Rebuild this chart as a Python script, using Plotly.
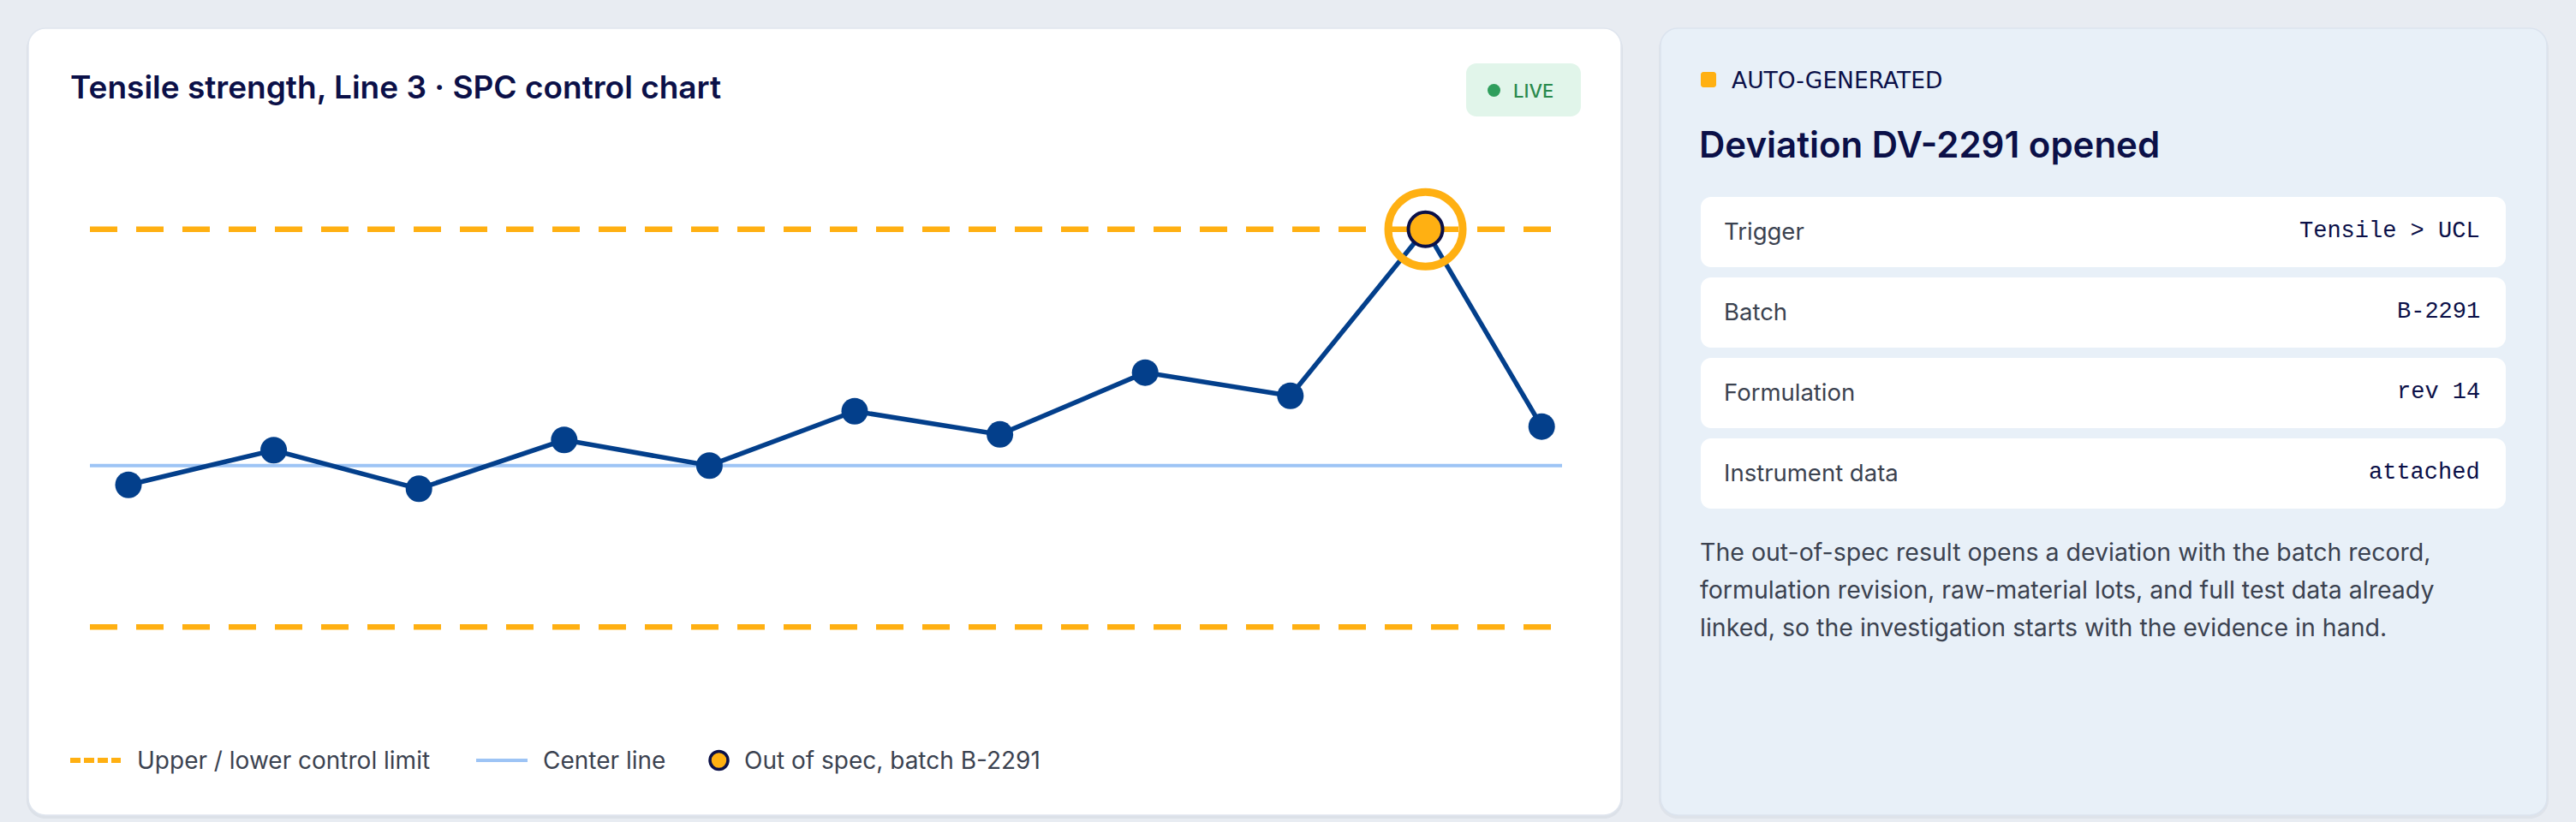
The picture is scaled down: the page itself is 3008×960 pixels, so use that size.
import plotly.graph_objects as go

# ---------------- data ----------------
sample_pos = [1, 2, 3, 4, 5, 6, 7, 8, 9, 9.93, 10.73]
tensile = [49.51, 50.39, 49.41, 50.65, 50.0, 51.38, 50.79, 52.36, 51.77, 56.0, 50.99]
center_line = 50.0
ucl = 56.0
lcl = 45.9
oos_index = 9

legend_labels = ["Upper / lower control limit", "Center line", "Out of spec, batch B-2291"]
row_labels = ["Trigger", "Batch", "Formulation", "Instrument data"]
row_values = ["Tensile > UCL", "B-2291", "rev 14", "attached"]
paragraph_lines = [
    "The out-of-spec result opens a deviation with the batch record,",
    "formulation revision, raw-material lots, and full test data already",
    "linked, so the investigation starts with the evidence in hand.",
]
chart_title = "Tensile strength, Line 3 · SPC control chart"
panel_kicker = "AUTO-GENERATED"
panel_title = "Deviation DV-2291 opened"

# ---------------- style ----------------
W, H = 3008, 960
NAVY = "#033f8b"
ORANGE = "#ffb012"
CL_BLUE = "#9dc4f5"
DARK = "#0b1048"
GREY_TXT = "#3b4250"
BG = "#e8ecf2"
SANS = "Inter, 'Open Sans', sans-serif"
MONO = "'Liberation Mono', 'DejaVu Sans Mono', monospace"


def fx(x):
    return x / W


def fy(y):
    return 1 - y / H


def rrect(x0, y0, x1, y1, r):
    k = 0.5523 * r
    p = [
        f"M {fx(x0 + r)},{fy(y0)}",
        f"L {fx(x1 - r)},{fy(y0)}",
        f"C {fx(x1 - r + k)},{fy(y0)} {fx(x1)},{fy(y0 + r - k)} {fx(x1)},{fy(y0 + r)}",
        f"L {fx(x1)},{fy(y1 - r)}",
        f"C {fx(x1)},{fy(y1 - r + k)} {fx(x1 - r + k)},{fy(y1)} {fx(x1 - r)},{fy(y1)}",
        f"L {fx(x0 + r)},{fy(y1)}",
        f"C {fx(x0 + r - k)},{fy(y1)} {fx(x0)},{fy(y1 - r + k)} {fx(x0)},{fy(y1 - r)}",
        f"L {fx(x0)},{fy(y0 + r)}",
        f"C {fx(x0)},{fy(y0 + r - k)} {fx(x0 + r - k)},{fy(y0)} {fx(x0 + r)},{fy(y0)}",
        "Z",
    ]
    return " ".join(p)


shapes = []
annotations = []


def card(x0, y0, x1, y1, r, fill, line=None, lw=0):
    shapes.append(dict(type="path", xref="paper", yref="paper", path=rrect(x0, y0, x1, y1, r),
                       fillcolor=fill, line=dict(color=line or fill, width=lw), layer="below"))


def text(x, y, s, size, color, family=SANS, weight=400, anchor="left"):
    annotations.append(dict(x=fx(x), y=fy(y), xref="paper", yref="paper", text=s, showarrow=False,
                            xanchor=anchor, yanchor="middle",
                            font=dict(size=size, color=color, family=family, weight=weight)))


# card shadows + cards
card(31, 35, 1895, 956, 22, "rgba(30,50,90,0.06)")
card(1937, 35, 2976, 956, 22, "rgba(30,50,90,0.05)")
card(33, 33, 1893, 952, 20, "#ffffff", "#dfe5ee", 1.5)
card(1939, 33, 2974, 952, 20, "#e8f0f8", "#dbe3ee", 1.5)

# LIVE badge
card(1712, 74, 1846, 136, 12, "#e1f5ea")
shapes.append(dict(type="circle", xref="paper", yref="paper", x0=fx(1737), x1=fx(1752), y0=fy(113), y1=fy(98),
                   fillcolor="#2f9e5c", line=dict(width=0), layer="below"))
text(1765, 106, "LIVE", 22, "#2a8a4d", weight=500)

# chart title
text(80, 102, chart_title, 37, DARK, weight=600)

# custom legend
LY = 888
shapes.append(dict(type="line", xref="paper", yref="paper", x0=fx(82), x1=fx(141), y0=fy(LY), y1=fy(LY),
                   line=dict(color=ORANGE, width=6, dash="12px,4px")))
text(158, LY, legend_labels[0], 28, GREY_TXT)
shapes.append(dict(type="line", xref="paper", yref="paper", x0=fx(556), x1=fx(616), y0=fy(LY), y1=fy(LY),
                   line=dict(color=CL_BLUE, width=4)))
text(632, LY, legend_labels[1], 28, GREY_TXT)
shapes.append(dict(type="circle", xref="paper", yref="paper", x0=fx(829), x1=fx(850), y0=fy(LY + 10.5),
                   y1=fy(LY - 10.5), fillcolor=ORANGE, line=dict(color=DARK, width=3.5)))
text(867, LY, legend_labels[2], 28, GREY_TXT)

# right panel
shapes.append(dict(type="path", xref="paper", yref="paper", path=rrect(1986, 84, 2004, 102, 3),
                   fillcolor=ORANGE, line=dict(width=0)))
text(2020, 93, panel_kicker, 26.5, DARK, family="'DejaVu Sans', sans-serif", weight=500)
text(1982, 168, panel_title, 42, DARK, weight=600)

row_top = [230, 324, 418, 512]
for top, lab, val in zip(row_top, row_labels, row_values):
    card(1986, top, 2926, top + 82, 12, "#ffffff")
    text(2011, top + 40, lab, 27.5, GREY_TXT)
    text(2898, top + 40, val, 27, DARK, family=MONO, anchor="right")

for i, line in enumerate(paragraph_lines):
    text(1983, 644 + 44 * i, line, 28.5, GREY_TXT)

# ---------------- figure ----------------
fig = go.Figure()

fig.add_trace(go.Scatter(
    x=sample_pos, y=tensile, mode="lines+markers", name="Tensile strength",
    line=dict(color=NAVY, width=5.5), marker=dict(size=31, color=NAVY),
    cliponaxis=False, showlegend=False, hoverinfo="x+y"))

fig.add_trace(go.Scatter(
    x=[sample_pos[oos_index]], y=[tensile[oos_index]], mode="markers", name=legend_labels[2],
    marker=dict(size=87, color=ORANGE, symbol="circle-open", line=dict(width=9, color=ORANGE)),
    cliponaxis=False, showlegend=False, hoverinfo="skip"))

fig.add_trace(go.Scatter(
    x=[sample_pos[oos_index]], y=[tensile[oos_index]], mode="markers", name=legend_labels[2],
    marker=dict(size=40, color=ORANGE, line=dict(width=4, color=DARK)),
    cliponaxis=False, showlegend=False))

for val, col, wdt, dash in [(ucl, ORANGE, 6.5, "32px,22px"), (lcl, ORANGE, 6.5, "32px,22px"),
                            (center_line, CL_BLUE, 4, "solid")]:
    shapes.append(dict(type="line", xref="x domain", yref="y", x0=0, x1=1, y0=val, y1=val,
                       line=dict(color=col, width=wdt, dash=dash), layer="below"))

x_lo = 1 - 45 / 169.6
x_hi = 1 + 1674 / 169.6
y_lo = center_line - (800 - 543.7) / 46
y_hi = center_line + (543.7 - 200) / 46

fig.update_layout(
    width=W, height=H, margin=dict(l=0, r=0, t=0, b=0),
    paper_bgcolor=BG, plot_bgcolor="rgba(0,0,0,0)",
    xaxis=dict(domain=[105 / W, 1824 / W], range=[x_lo, x_hi], visible=False, fixedrange=True),
    yaxis=dict(domain=[1 - 800 / H, 1 - 200 / H], range=[y_lo, y_hi], visible=False, fixedrange=True),
    shapes=shapes, annotations=annotations, showlegend=False,
    font=dict(family=SANS),
)

fig.write_html(
    "out.html",
    config={"displayModeBar": False},
    post_script="document.body.style.margin='0';document.body.style.overflow='hidden';"
                "document.body.style.background='" + BG + "';",
)
